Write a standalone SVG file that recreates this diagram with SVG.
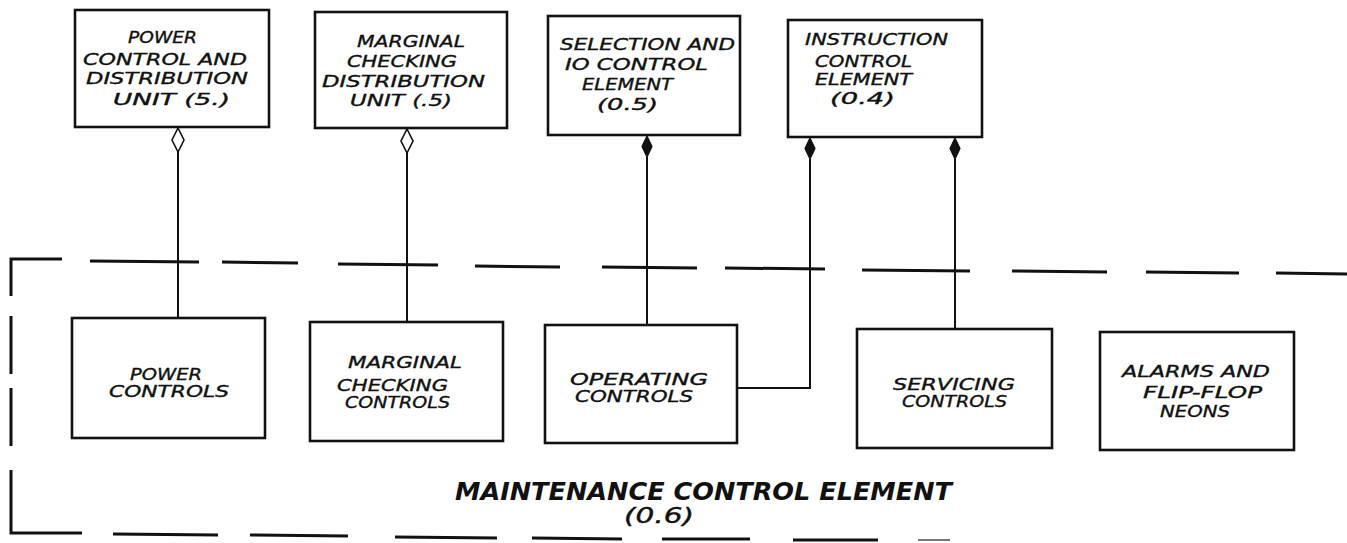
<svg xmlns="http://www.w3.org/2000/svg" width="1347" height="543" viewBox="0 0 1347 543">
<style>
.box{fill:#fff;stroke:#111;stroke-width:2.6}
.t{font-family:"DejaVu Sans","Liberation Sans",Arial,sans-serif;font-style:oblique;font-weight:normal;font-size:15.5px;fill:#111;stroke:#111;stroke-width:0.35}
.big{font-family:"DejaVu Sans","Liberation Sans",Arial,sans-serif;font-style:oblique;font-weight:bold;font-size:24px;fill:#111}
.par{font-family:"DejaVu Sans","Liberation Sans",Arial,sans-serif;font-style:oblique;font-size:21px;fill:#111;stroke:#111;stroke-width:0.4}
.con{stroke:#111;stroke-width:2;fill:none}
.dash{stroke:#111;stroke-width:3;stroke-linecap:butt;fill:none}
.dh{fill:#fff;stroke:#111;stroke-width:1.6}
.df{fill:#111;stroke:#111;stroke-width:1.2}
</style>
<rect width="1347" height="543" fill="#fff"/>
<g id="boundary">
<path class="dash" d="M11 296 V259 H62 M90 261 L199 262 M222 262 L298 263 M338 264 L438 265 M475 266 L560 267 M602 267 L697 268 M725 268 L825 269 M862 270 L970 271 M1012 271 L1107 272 M1146 272 L1239 273 M1276 273 L1347 274"/>
<path class="dash" d="M11 316 V374 M11 388 V446 M11 470 V533 H82 M113 534 L218 535 M250 535 L348 536 M395 537 L497 538 M532 538 L622 539 M662 539 L750 539 M793 540 L878 540"/>
<path d="M918 540 L950 540" stroke="#777" stroke-width="2"/>
</g>
<g id="connectors">
<path class="con" d="M178 152 V318"/>
<path class="dh" d="M178 128 L184 140 L178 152 L172 140 Z"/>
<path class="con" d="M407 153 V322"/>
<path class="dh" d="M407 129 L413 141 L407 153 L401 141 Z"/>
<path class="con" d="M647 157 V325"/>
<path class="df" d="M647 136 L652 146.5 L647 157 L642 146.5 Z"/>
<path class="con" d="M810 159 V388 H737"/>
<path class="df" d="M810 138 L815 148.5 L810 159 L805 148.5 Z"/>
<path class="con" d="M955 159 V329"/>
<path class="df" d="M955 138 L960 148.5 L955 159 L950 148.5 Z"/>
</g>
<g id="n-power-dist">
<rect class="box" x="75" y="10" width="194" height="117"/>
<text class="t" x="128" y="43" textLength="69" lengthAdjust="spacingAndGlyphs">POWER</text>
<text class="t" x="83" y="65" textLength="164" lengthAdjust="spacingAndGlyphs">CONTROL AND</text>
<text class="t" x="86" y="84" textLength="162" lengthAdjust="spacingAndGlyphs">DISTRIBUTION</text>
<text class="t" x="113" y="105" textLength="117" lengthAdjust="spacingAndGlyphs">UNIT (5.)</text>
</g>
<g id="n-marginal-dist">
<rect class="box" x="315" y="12" width="192" height="116"/>
<text class="t" x="357" y="47" textLength="108" lengthAdjust="spacingAndGlyphs">MARGINAL</text>
<text class="t" x="347" y="67" textLength="110" lengthAdjust="spacingAndGlyphs">CHECKING</text>
<text class="t" x="322" y="87" textLength="163" lengthAdjust="spacingAndGlyphs">DISTRIBUTION</text>
<text class="t" x="350" y="106" textLength="102" lengthAdjust="spacingAndGlyphs">UNIT (.5)</text>
</g>
<g id="n-selection">
<rect class="box" x="548" y="16" width="192" height="119"/>
<text class="t" x="560" y="50" textLength="175" lengthAdjust="spacingAndGlyphs">SELECTION AND</text>
<text class="t" x="565" y="70" textLength="143" lengthAdjust="spacingAndGlyphs">IO  CONTROL</text>
<text class="t" x="582" y="90" textLength="91" lengthAdjust="spacingAndGlyphs">ELEMENT</text>
<text class="t" x="597" y="110" textLength="61" lengthAdjust="spacingAndGlyphs">(0.5)</text>
</g>
<g id="n-instruction">
<rect class="box" x="788" y="20" width="194" height="117"/>
<text class="t" x="805" y="45" textLength="143" lengthAdjust="spacingAndGlyphs">INSTRUCTION</text>
<text class="t" x="815" y="67" textLength="97" lengthAdjust="spacingAndGlyphs">CONTROL</text>
<text class="t" x="815" y="85" textLength="97" lengthAdjust="spacingAndGlyphs">ELEMENT</text>
<text class="t" x="830" y="104" textLength="65" lengthAdjust="spacingAndGlyphs">(0.4)</text>
</g>
<g id="n-power-controls">
<rect class="box" x="72" y="318" width="193" height="120"/>
<text class="t" x="130" y="380" textLength="72" lengthAdjust="spacingAndGlyphs">POWER</text>
<text class="t" x="109" y="397" textLength="120" lengthAdjust="spacingAndGlyphs">CONTROLS</text>
</g>
<g id="n-marginal-controls">
<rect class="box" x="310" y="322" width="193" height="119"/>
<text class="t" x="348" y="368" textLength="114" lengthAdjust="spacingAndGlyphs">MARGINAL</text>
<text class="t" x="337" y="391" textLength="111" lengthAdjust="spacingAndGlyphs">CHECKING</text>
<text class="t" x="345" y="408" textLength="105" lengthAdjust="spacingAndGlyphs">CONTROLS</text>
</g>
<g id="n-operating">
<rect class="box" x="545" y="325" width="192" height="118"/>
<text class="t" x="570" y="385" textLength="138" lengthAdjust="spacingAndGlyphs">OPERATING</text>
<text class="t" x="575" y="402" textLength="118" lengthAdjust="spacingAndGlyphs">CONTROLS</text>
</g>
<g id="n-servicing">
<rect class="box" x="857" y="329" width="195" height="119"/>
<text class="t" x="893" y="390" textLength="122" lengthAdjust="spacingAndGlyphs">SERVICING</text>
<text class="t" x="902" y="407" textLength="105" lengthAdjust="spacingAndGlyphs">CONTROLS</text>
</g>
<g id="n-alarms">
<rect class="box" x="1100" y="332" width="194" height="118"/>
<text class="t" x="1122" y="377" textLength="148" lengthAdjust="spacingAndGlyphs">ALARMS AND</text>
<text class="t" x="1143" y="398" textLength="119" lengthAdjust="spacingAndGlyphs">FLIP-FLOP</text>
<text class="t" x="1160" y="417" textLength="70" lengthAdjust="spacingAndGlyphs">NEONS</text>
</g>
<g id="n-maintenance">
<text class="big" x="455" y="500" textLength="497" lengthAdjust="spacingAndGlyphs">MAINTENANCE CONTROL ELEMENT</text>
<text class="par" x="624" y="523" textLength="70" lengthAdjust="spacingAndGlyphs">(0.6)</text>
</g>
</svg>
